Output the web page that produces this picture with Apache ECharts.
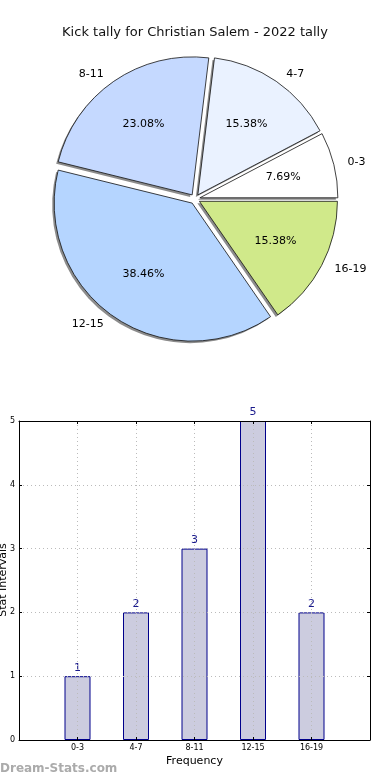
<!DOCTYPE html>
<html><head><meta charset="utf-8">
<script src="https://cdn.jsdelivr.net/npm/echarts@6/dist/echarts.min.js"></script>
<style>html,body{margin:0;padding:0;background:#fff}#c{width:390px;height:780px}</style>
</head><body><div id="c"></div>
<script>
const titleText = 'Kick tally for Christian Salem - 2022 tally';
const categories = ['0-3', '4-7', '8-11', '12-15', '16-19'];
const counts = [1, 2, 3, 5, 2];
const pieColors = ['#ffffff', '#eaf2ff', '#c5d9ff', '#b5d5ff', '#d0e98a'];
const yTicks = [0, 1, 2, 3, 4, 5];
const xName = 'Frequency';
const yName = 'Stat Intervals';
const watermark = 'Dream-Stats.com';

const total = counts.reduce((a, b) => a + b, 0);
const pieData = categories.map((c, i) => ({
  name: c, value: counts[i], selected: true,
  itemStyle: { color: pieColors[i] }
}));
const plainPie = categories.map((c, i) => ({ name: c, value: counts[i], selected: true }));
const padCats = [''].concat(categories, ['']);
const padVals = [null].concat(counts, [null]);
const FONT = 'DejaVu Sans';
const CX = 195, CY = 199, R = 138;

const gridLine = { show: true, lineStyle: { color: '#bbbbbb', type: [1, 3], width: 1 } };
const axLine = { show: true, onZero: false, lineStyle: { color: '#000', width: 1 } };
const axTick = { show: true, inside: true, length: 3, lineStyle: { color: '#000' } };

const chart = echarts.init(document.getElementById('c'), null, { renderer: 'canvas' });
chart.setOption({
  animation: false,
  textStyle: { fontFamily: FONT },
  title: {
    text: titleText, left: 'center', top: 21,
    textStyle: { fontFamily: FONT, fontSize: 13, fontWeight: 'normal', color: '#111' }
  },
  graphic: [{
    type: 'text', left: 0, top: 763,
    style: { text: watermark, fontFamily: FONT, fontSize: 12, fontWeight: 'bold', fill: '#ababab' }
  }, {
    type: 'text', x: 3, y: 580, rotation: Math.PI / 2,
    style: { text: yName, fontFamily: FONT, fontSize: 11, fill: '#000', align: 'center', verticalAlign: 'middle' }
  }],
  grid: { left: 19, right: 20, top: 421, bottom: 40, containLabel: false, outerBoundsMode: 'none' },
  xAxis: [{
    type: 'category', data: padCats, boundaryGap: false, z: 5, position: 'bottom',
    name: xName, nameLocation: 'middle', nameGap: 16,
    nameTextStyle: { fontFamily: FONT, fontSize: 11, color: '#000' },
    axisLine: axLine, axisTick: axTick,
    axisLabel: { fontFamily: FONT, fontSize: 8, color: '#000', margin: 4, interval: 0 },
    splitLine: gridLine
  }, {
    type: 'category', data: padCats, boundaryGap: false, z: 5, position: 'top',
    axisLine: axLine, axisTick: axTick, axisLabel: { show: false }, splitLine: { show: false }
  }],
  yAxis: [{
    type: 'value', min: yTicks[0], max: yTicks[yTicks.length - 1], interval: 1, z: 5, position: 'left',
    axisLine: axLine, axisTick: axTick,
    axisLabel: { fontFamily: FONT, fontSize: 8, color: '#000', margin: 4 },
    splitLine: gridLine
  }, {
    type: 'value', min: yTicks[0], max: yTicks[yTicks.length - 1], interval: 1, z: 5, position: 'right',
    axisLine: axLine, axisTick: axTick, axisLabel: { show: false }, splitLine: { show: false }
  }],
  series: [
    {
      type: 'pie', center: [CX - 2, CY + 2], radius: R, z: 1,
      startAngle: 0, clockwise: false,
      selectedMode: 'multiple', selectedOffset: 5,
      avoidLabelOverlap: false, silent: true,
      data: plainPie,
      itemStyle: { color: '#8c8c8c', borderWidth: 0 },
      label: { show: false }, labelLine: { show: false },
      emphasis: { disabled: true }
    },
    {
      type: 'pie', center: [CX, CY], radius: R, z: 2,
      startAngle: 0, clockwise: false,
      selectedMode: 'multiple', selectedOffset: 5,
      avoidLabelOverlap: false, silent: true,
      data: pieData,
      itemStyle: { borderColor: '#111', borderWidth: 0.8 },
      label: { show: true, position: 'outside', formatter: '{b}', fontFamily: FONT, fontSize: 11, color: '#000' },
      labelLine: { show: false, length: 9, length2: 0 },
      emphasis: { disabled: true }
    },
    {
      type: 'pie', center: [CX, CY], radius: R * 1.2, z: 3,
      startAngle: 0, clockwise: false,
      selectedMode: 'multiple', selectedOffset: 5,
      avoidLabelOverlap: false, silent: true,
      data: plainPie,
      itemStyle: { color: 'rgba(0,0,0,0)', borderWidth: 0 },
      label: {
        show: true, position: 'inside', fontFamily: FONT, fontSize: 11, color: '#000',
        formatter: p => (p.value / total * 100).toFixed(2) + '%'
      },
      labelLine: { show: false },
      emphasis: { disabled: true }
    },
    {
      type: 'bar', data: padVals, barWidth: 26, z: 2, xAxisIndex: 0, yAxisIndex: 0,
      itemStyle: { color: '#ccccdf', borderColor: '#00008b', borderWidth: 1 },
      label: { show: true, position: 'top', distance: 3, fontFamily: FONT, fontSize: 11, color: '#1a1a8c' },
      emphasis: { disabled: true }
    }
  ]
});
</script></body></html>
